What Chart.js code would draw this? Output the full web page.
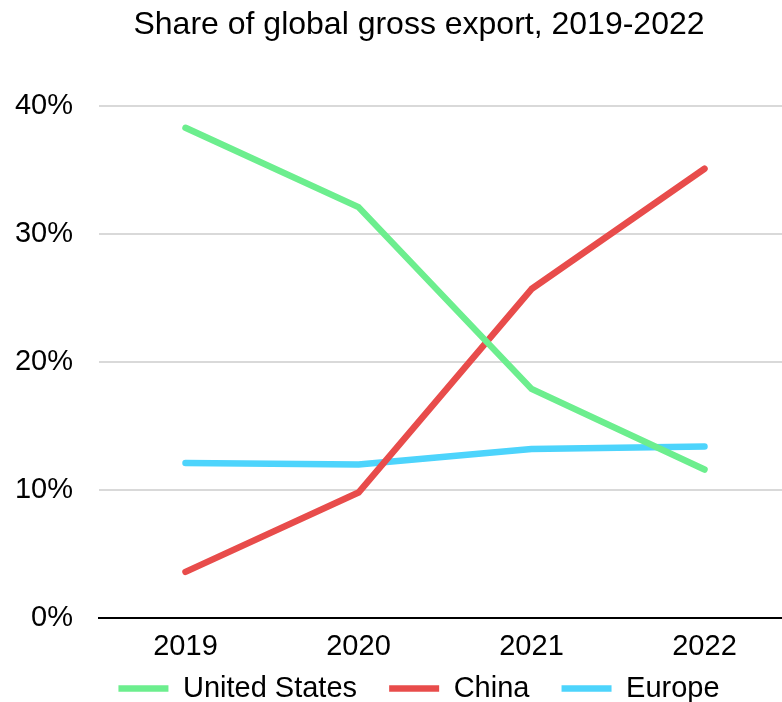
<!DOCTYPE html>
<html>
<head>
<meta charset="utf-8">
<script src="https://cdn.jsdelivr.net/npm/chart.js@4"></script>
<style>
  html, body { margin: 0; padding: 0; background: #fff; overflow: hidden; }
  #wrap { width: 782px; height: 702px; overflow: hidden; }
</style>
</head>
<body>
<div id="wrap">
  <canvas id="chart" width="838" height="702"></canvas>
</div>
<script>
// datos
const years = ['2019', '2020', '2021', '2022'];
const unitedStates = [38.3, 32.1, 17.9, 11.6];
const china = [3.6, 9.8, 25.7, 35.1];
const europe = [12.1, 12.0, 13.2, 13.4];
const yTicks = [0, 10, 20, 30, 40];

Chart.defaults.font.family = "'Liberation Sans', Arial, sans-serif";
Chart.defaults.color = '#000';

function serie(label, data, color) {
    return {
        label: label,
        data: data,
        borderColor: color,
        backgroundColor: color,
        borderWidth: 6.5,
        borderCapStyle: 'round',
        borderJoinStyle: 'round',
        pointRadius: 0,
        tension: 0
    };
}

const ctx = document.getElementById('chart').getContext('2d');
new Chart(ctx, {
    type: 'line',
    data: {
        labels: years,
        datasets: [
            serie('United States', unitedStates, '#6CEE8E'),
            serie('China', china, '#E84C4B'),
            serie('Europe', europe, '#4DD4FC')
        ]
    },
    options: {
        responsive: false,
        animation: false,
        layout: { padding: 0 },
        plugins: {
            title: {
                display: true,
                text: 'Share of global gross export, 2019-2022',
                font: { size: 32, weight: 'normal' },
                padding: { top: 6, bottom: 61.6 }
            },
            legend: {
                position: 'bottom',
                maxHeight: 44,
                labels: {
                    usePointStyle: true,
                    pointStyle: 'line',
                    pointStyleWidth: 50,
                    padding: 16,
                    font: { size: 29 },
                    // espacio extra entre elementos de la leyenda
                    generateLabels: (chart) => {
                        const items = Chart.defaults.plugins.legend.labels.generateLabels(chart);
                        items.forEach((it, i) => { if (i < items.length - 1) it.text += '  '; });
                        return items;
                    }
                }
            },
            tooltip: { enabled: false }
        },
        scales: {
            x: {
                offset: true,
                grid: { display: false, drawTicks: false },
                border: { display: true, color: '#000', width: 2 },
                ticks: { font: { size: 29 }, padding: 12, maxRotation: 0 },
                afterFit: (scale) => { scale.height = 40; }
            },
            y: {
                min: 0,
                max: 40,
                afterBuildTicks: (scale) => { scale.ticks = yTicks.map(v => ({ value: v })); },
                grid: { color: '#D9D9D9', lineWidth: 2, drawTicks: false },
                border: { display: false },
                ticks: {
                    font: { size: 29 },
                    padding: 26,
                    callback: (v) => v + '%'
                },
                afterFit: (scale) => { scale.width = 99; }
            },
            // eje vacio a la derecha para dejar el margen del area de trazado
            margen: {
                type: 'linear',
                position: 'right',
                grid: { display: false },
                border: { display: false },
                ticks: { display: false },
                afterFit: (scale) => { scale.width = 47; }
            }
        }
    }
});
</script>
</body>
</html>
